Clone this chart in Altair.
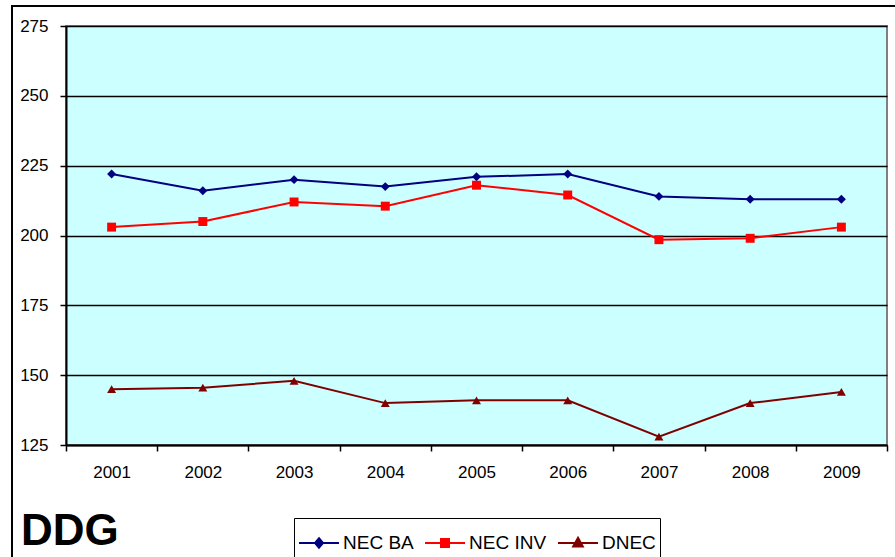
import altair as alt
import pandas as pd

# Series values by year
years = ["2001", "2002", "2003", "2004", "2005", "2006", "2007", "2008", "2009"]
nec_ba = [222, 216, 220, 217.5, 221, 222, 214, 213, 213]
nec_inv = [203, 205, 212, 210.5, 218, 214.5, 198.5, 199, 203]
dnec = [145, 145.5, 148, 140, 141, 141, 128, 140, 144]

series_names = ["NEC BA", "NEC INV", "DNEC"]
series_colors = ["#000080", "#FF0000", "#800000"]
series_shapes = ["diamond", "square", "triangle-up"]
y_ticks = [125, 150, 175, 200, 225, 250, 275]
panel_label = "DDG"

rows = []
for name, vals in zip(series_names, [nec_ba, nec_inv, dnec]):
    for yr, v in zip(years, vals):
        rows.append({"year": yr, "value": v, "series": name})
df = pd.DataFrame(rows)

FONT = "Liberation Sans"

x_enc = alt.X(
    "year:N",
    sort=years,
    scale=alt.Scale(paddingInner=0, paddingOuter=0),
    axis=alt.Axis(
        title=None, labelAngle=0, tickBand="extent", tickSize=6, tickWidth=1.5,
        tickColor="black", domainColor="black", domainWidth=2,
        labelFont=FONT, labelFontSize=17, labelColor="black", labelPadding=13,
        grid=False,
    ),
)
y_enc = alt.Y(
    "value:Q",
    scale=alt.Scale(domain=[125, 275], nice=False, zero=False),
    axis=alt.Axis(
        title=None, values=y_ticks, tickSize=6, tickWidth=1.5, tickColor="black",
        domainColor="black", domainWidth=2, labelFont=FONT, labelFontSize=17,
        labelColor="black", labelPadding=12, grid=True, gridColor="black",
        gridWidth=1.5, gridOpacity=1,
    ),
)

# legend symbol: a short line with the series marker in its middle
legend_shape_expr = (
    "datum.value === 'NEC BA' ? 'M-1,0H1M0,-0.24L0.2,0L0,0.24L-0.2,0Z' : "
    "datum.value === 'NEC INV' ? 'M-1,0H1M-0.2,-0.2H0.2V0.2H-0.2Z' : "
    "'M-1,0H1M0,-0.26L0.24,0.18L-0.24,0.18Z'"
)
legend_color_expr = "scale('color', datum.value)"

color_scale = alt.Scale(domain=series_names, range=series_colors)

color_enc = alt.Color(
    "series:N",
    sort=series_names,
    scale=color_scale,
    legend=alt.Legend(
        title=None,
        orient="none",
        legendX=228,
        legendY=492,
        direction="horizontal",
        columns=3,
        columnPadding=7,
        padding=4,
        strokeColor="black",
        fillColor="white",
        labelFont=FONT,
        labelFontSize=19,
        labelColor="black",
        labelOffset=3,
        symbolSize=1600,
        symbolStrokeWidth=2,
        symbolOpacity=1,
        symbolType={"expr": legend_shape_expr},
        symbolStrokeColor={"expr": legend_color_expr},
        symbolFillColor={"expr": legend_color_expr},
    ),
)

base = alt.Chart(df)

lines = base.mark_line(strokeWidth=2).encode(x=x_enc, y=y_enc, color=color_enc)

# one marker layer per series
point_layers = [
    base.transform_filter(alt.datum.series == name)
    .mark_point(filled=True, size=80, opacity=1, shape=shape, color=col)
    .encode(x=x_enc, y=y_enc)
    for name, col, shape in zip(series_names, series_colors, series_shapes)
]

# outer chart frame
frame = alt.Chart(pd.DataFrame({"f": [0]})).mark_rect(
    fillOpacity=0, stroke="black", strokeWidth=2, clip=False
).encode(
    x=alt.value(-54), x2=alt.value(870), y=alt.value(-20), y2=alt.value(560)
)

# big label in the lower-left corner
label = alt.Chart(pd.DataFrame({"t": [panel_label]})).mark_text(
    font=FONT, fontSize=44, fontWeight="bold", color="black",
    align="left", baseline="alphabetic", clip=False,
).encode(text="t:N", x=alt.value(-45), y=alt.value(519))

chart = alt.layer(frame, lines, *point_layers, label).properties(
    width=821,
    height=419,
    padding={"left": 66, "top": 26, "right": 8, "bottom": 112},
    autosize=alt.AutoSizeParams(type="none"),
    background="white",
).configure_view(
    fill="#CCFFFF", stroke="#808080", strokeWidth=2
)

chart.save("out.html", embed_options={"renderer": "svg", "actions": False})
